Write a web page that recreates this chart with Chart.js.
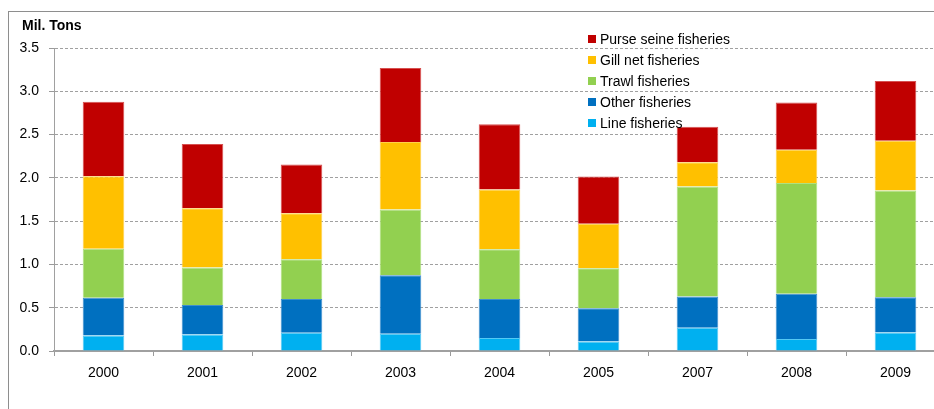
<!DOCTYPE html>
<html>
<head>
<meta charset="utf-8">
<title>Catch by fishery type</title>
<script src="https://cdn.jsdelivr.net/npm/chart.js@4/dist/chart.umd.min.js"></script>
<style>
    html, body { margin: 0; padding: 0; background: #fff; }
    #wrap { position: relative; width: 934px; height: 409px; overflow: hidden; }
    #frame {
        position: absolute; left: 8px; top: 11px; width: 1000px; height: 500px;
        border-left: 1.5px solid #8e8e8e; border-top: 1.5px solid #8e8e8e;
    }
    #chart { position: absolute; left: 0; top: 0; }
</style>
</head>
<body>
<div id="wrap">
    <div id="frame"></div>
    <canvas id="chart" width="960" height="409"></canvas>
</div>
<script>
// Data (million tons per fishery type)
const years = ['2000', '2001', '2002', '2003', '2004', '2005', '2007', '2008', '2009'];
const lineFish  = [0.18, 0.19, 0.21, 0.20, 0.15, 0.11, 0.27, 0.14, 0.215];
const otherFish = [0.435, 0.34, 0.39, 0.675, 0.45, 0.385, 0.36, 0.52, 0.405];
const trawlFish = [0.565, 0.435, 0.46, 0.76, 0.575, 0.46, 1.27, 1.28, 1.235];
const gillFish  = [0.84, 0.685, 0.53, 0.78, 0.69, 0.515, 0.28, 0.385, 0.575];
const purseFish = [0.86, 0.74, 0.565, 0.855, 0.755, 0.545, 0.41, 0.545, 0.69];
const yTicks = [0, 0.5, 1.0, 1.5, 2.0, 2.5, 3.0, 3.5];
const yTitle = 'Mil. Tons';

const FONT = '"Liberation Sans", Arial, sans-serif';

// Title over the y axis + legend box in the top right of the plot
const overlay = {
    id: 'overlay',
    afterDraw(chart) {
        const ctx = chart.ctx;
        ctx.save();
        ctx.fillStyle = '#000';
        ctx.textBaseline = 'middle';
        ctx.textAlign = 'left';
        ctx.font = 'bold 14px ' + FONT;
        ctx.fillText(yTitle, 22, 26);

        ctx.font = '14px ' + FONT;
        const sets = chart.data.datasets.slice().reverse();
        sets.forEach((ds, i) => {
            const cy = 39 + i * 21;
            ctx.fillStyle = ds.backgroundColor;
            ctx.fillRect(588, cy - 4, 8, 8);
            ctx.fillStyle = '#000';
            ctx.fillText(ds.label, 600, cy + 1);
        });
        ctx.restore();
    }
};

function makeSet(label, data, fill, edge) {
    return {
        label: label,
        data: data,
        backgroundColor: fill,
        borderColor: edge,
        borderWidth: 1,
        barPercentage: 1,
        categoryPercentage: 0.42
    };
}

new Chart(document.getElementById('chart'), {
    type: 'bar',
    data: {
        labels: years,
        datasets: [
            makeSet('Line fisheries', lineFish, '#00B0F0', '#55c9f4'),
            makeSet('Other fisheries', otherFish, '#0070C0', '#3f8fcc'),
            makeSet('Trawl fisheries', trawlFish, '#92D050', '#b0e080'),
            makeSet('Gill net fisheries', gillFish, '#FFC000', '#ffd04a'),
            makeSet('Purse seine fisheries', purseFish, '#C00000', '#d65050')
        ]
    },
    options: {
        responsive: false,
        animation: false,
        layout: { padding: { left: 0, top: 48, right: 15, bottom: 0 } },
        plugins: {
            legend: { display: false },
            tooltip: { enabled: false }
        },
        scales: {
            x: {
                stacked: true,
                afterFit: s => { s.height = 58; },
                grid: {
                    offset: true,
                    drawOnChartArea: false,
                    tickLength: 5,
                    color: '#9a9a9a'
                },
                border: { color: '#a0a0a0', width: 2 },
                ticks: { color: '#000', padding: 9, font: { family: FONT, size: 14 } }
            },
            y: {
                stacked: true,
                min: 0,
                max: 3.5,
                afterFit: s => { s.width = 54; },
                afterBuildTicks: s => { s.ticks = yTicks.map(v => ({ value: v })); },
                grid: {
                    color: '#a0a0a0',
                    tickLength: 5,
                    tickColor: '#9a9a9a',
                    tickBorderDash: []
                },
                border: { color: '#a0a0a0', width: 1, dash: [3, 2] },
                ticks: {
                    color: '#000',
                    padding: 10,
                    font: { family: FONT, size: 14 },
                    callback: v => Number(v).toFixed(1)
                }
            }
        }
    },
    plugins: [overlay]
});
</script>
</body>
</html>
